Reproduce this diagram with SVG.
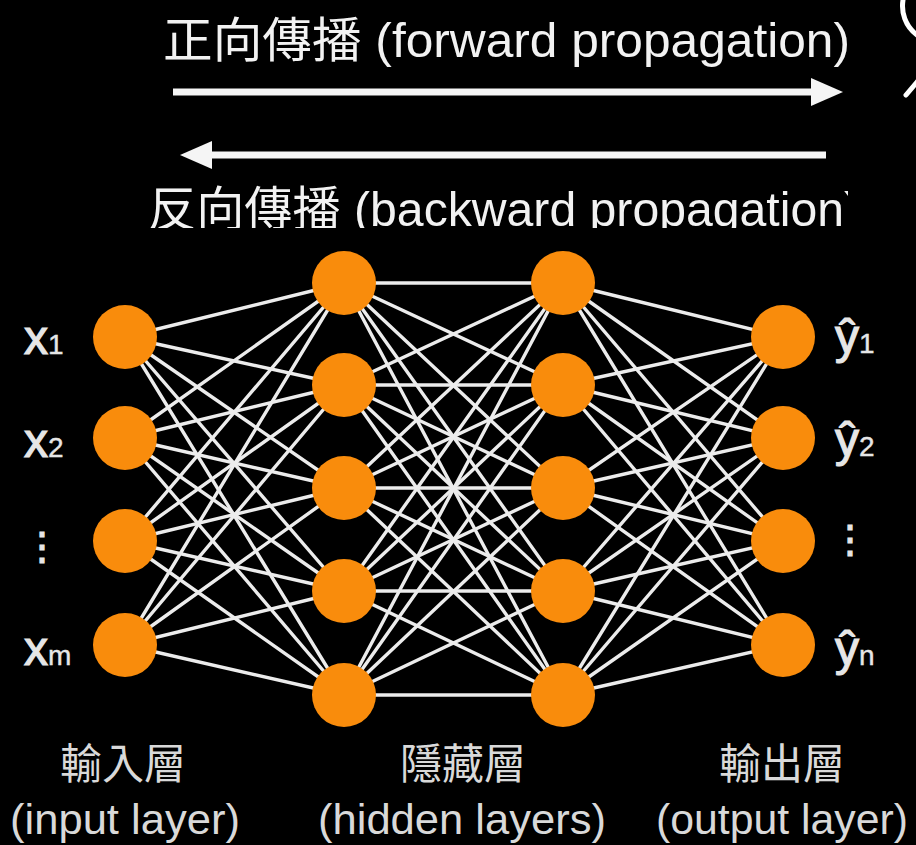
<svg xmlns="http://www.w3.org/2000/svg" width="916" height="845" viewBox="0 0 916 845">
  <style>
    .title { font-family: "Liberation Sans", "Noto Sans CJK TC", sans-serif; fill: #f2f2f2; }
    .lbl { font-family: "Liberation Sans", "Noto Sans CJK TC", sans-serif; fill: #e6e6e6; stroke: #e6e6e6; stroke-width: 1.2; }
    .lbl tspan { stroke-width: 0.4; }
    .cap { font-family: "Liberation Sans", "Noto Sans CJK TC", sans-serif; fill: #d9d9d9; text-anchor: middle; }
    .node { fill: #f98c0c; }
    .edge { stroke: #ececec; stroke-width: 3.4; fill: none; }
    .arrow { stroke: #f5f5f5; stroke-width: 7; }
    .head { fill: #f5f5f5; }
  </style>
  <defs>
    <clipPath id="backClip">
      <rect x="0" y="150" width="848" height="78"/>
    </clipPath>
  </defs>
  <rect x="0" y="0" width="916" height="845" fill="#000"/>

  <!-- propagation direction arrows and captions -->
  <g id="forward">
    <text class="title" x="163" y="57" font-size="48" textLength="687" lengthAdjust="spacingAndGlyphs">正向傳播 (forward propagation)</text>
    <line class="arrow" x1="173" y1="92" x2="816" y2="92"/>
    <polygon class="head" points="811,78 843,92 811,106"/>
  </g>
  <g id="backward">
    <line class="arrow" x1="826" y1="155" x2="208" y2="155"/>
    <polygon class="head" points="212,141 180,155 212,169"/>
    <text class="title" clip-path="url(#backClip)" x="148" y="226" font-size="48" textLength="712" lengthAdjust="spacingAndGlyphs">反向傳播 (backward propagation)</text>
  </g>

  <!-- pen strokes at the top-right edge -->
  <g id="pen" fill="none" stroke="#ffffff" stroke-width="5" stroke-linecap="round">
    <path d="M903,0 C901,12 905,26 917,35"/>
    <path d="M906,95 L917,82"/>
  </g>

  <!-- fully connected weights -->
  <g id="connectors" class="edge">
    <path class="edge" d="M125 337L344 283M125 337L344 385M125 337L344 488M125 337L344 591M125 337L344 695"/>
    <path class="edge" d="M125 438L344 283M125 438L344 385M125 438L344 488M125 438L344 591M125 438L344 695"/>
    <path class="edge" d="M125 541L344 283M125 541L344 385M125 541L344 488M125 541L344 591M125 541L344 695"/>
    <path class="edge" d="M125 645L344 283M125 645L344 385M125 645L344 488M125 645L344 591M125 645L344 695"/>

    <path class="edge" d="M344 283L563 283M344 283L563 385M344 283L563 488M344 283L563 591M344 283L563 695"/>
    <path class="edge" d="M344 385L563 283M344 385L563 385M344 385L563 488M344 385L563 591M344 385L563 695"/>
    <path class="edge" d="M344 488L563 283M344 488L563 385M344 488L563 488M344 488L563 591M344 488L563 695"/>
    <path class="edge" d="M344 591L563 283M344 591L563 385M344 591L563 488M344 591L563 591M344 591L563 695"/>
    <path class="edge" d="M344 695L563 283M344 695L563 385M344 695L563 488M344 695L563 591M344 695L563 695"/>

    <path class="edge" d="M563 283L783 337M563 283L783 438M563 283L783 541M563 283L783 645"/>
    <path class="edge" d="M563 385L783 337M563 385L783 438M563 385L783 541M563 385L783 645"/>
    <path class="edge" d="M563 488L783 337M563 488L783 438M563 488L783 541M563 488L783 645"/>
    <path class="edge" d="M563 591L783 337M563 591L783 438M563 591L783 541M563 591L783 645"/>
    <path class="edge" d="M563 695L783 337M563 695L783 438M563 695L783 541M563 695L783 645"/>
  </g>

  <!-- input layer -->
  <g id="in1"><circle class="node" cx="125" cy="337" r="32"/><text class="lbl" x="24" y="354" font-size="48">x<tspan font-size="28">1</tspan></text></g>
  <g id="in2"><circle class="node" cx="125" cy="438" r="32"/><text class="lbl" x="24" y="457" font-size="48">x<tspan font-size="28">2</tspan></text></g>
  <g id="in3"><circle class="node" cx="125" cy="541" r="32"/><text class="lbl" x="42" y="560" font-size="38" text-anchor="middle" stroke-width="0">⋮</text></g>
  <g id="in4"><circle class="node" cx="125" cy="645" r="32"/><text class="lbl" x="24" y="665" font-size="48">x<tspan font-size="28">m</tspan></text></g>

  <!-- hidden layer 1 -->
  <g id="h1a"><circle class="node" cx="344" cy="283" r="32"/></g>
  <g id="h1b"><circle class="node" cx="344" cy="385" r="32"/></g>
  <g id="h1c"><circle class="node" cx="344" cy="488" r="32"/></g>
  <g id="h1d"><circle class="node" cx="344" cy="591" r="32"/></g>
  <g id="h1e"><circle class="node" cx="344" cy="695" r="32"/></g>

  <!-- hidden layer 2 -->
  <g id="h2a"><circle class="node" cx="563" cy="283" r="32"/></g>
  <g id="h2b"><circle class="node" cx="563" cy="385" r="32"/></g>
  <g id="h2c"><circle class="node" cx="563" cy="488" r="32"/></g>
  <g id="h2d"><circle class="node" cx="563" cy="591" r="32"/></g>
  <g id="h2e"><circle class="node" cx="563" cy="695" r="32"/></g>

  <!-- output layer -->
  <g id="out1"><circle class="node" cx="783" cy="337" r="32"/><text class="lbl" x="835" y="353" font-size="48">ŷ<tspan font-size="28">1</tspan></text></g>
  <g id="out2"><circle class="node" cx="783" cy="438" r="32"/><text class="lbl" x="835" y="456" font-size="48">ŷ<tspan font-size="28">2</tspan></text></g>
  <g id="out3"><circle class="node" cx="783" cy="541" r="32"/><text class="lbl" x="850" y="553" font-size="38" text-anchor="middle" stroke-width="0">⋮</text></g>
  <g id="out4"><circle class="node" cx="783" cy="645" r="32"/><text class="lbl" x="835" y="665" font-size="48">ŷ<tspan font-size="28">n</tspan></text></g>

  <!-- layer captions -->
  <g id="cap-input">
    <text class="cap" x="123" y="779" font-size="42">輸入層</text>
    <text class="cap" x="125" y="834" font-size="42" textLength="230" lengthAdjust="spacingAndGlyphs">(input layer)</text>
  </g>
  <g id="cap-hidden">
    <text class="cap" x="463" y="779" font-size="42">隱藏層</text>
    <text class="cap" x="462" y="834" font-size="42" textLength="288" lengthAdjust="spacingAndGlyphs">(hidden layers)</text>
  </g>
  <g id="cap-output">
    <text class="cap" x="782" y="779" font-size="42">輸出層</text>
    <text class="cap" x="782" y="834" font-size="42" textLength="252" lengthAdjust="spacingAndGlyphs">(output layer)</text>
  </g>
</svg>
